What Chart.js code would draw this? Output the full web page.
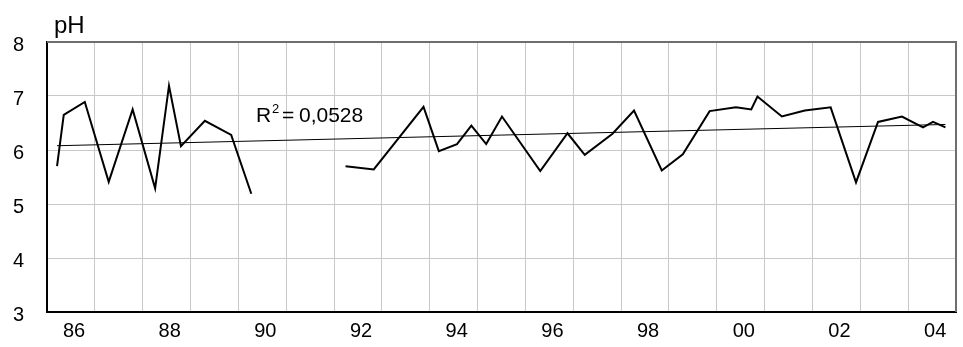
<!DOCTYPE html>
<html>
<head>
<meta charset="utf-8">
<script src="https://cdn.jsdelivr.net/npm/chart.js@4"></script>
<style>
  html, body { margin: 0; padding: 0; background: #fff; }
  #wrap { width: 963px; height: 347px; position: relative; }
</style>
</head>
<body>
<div id="wrap"><canvas id="phChart"></canvas></div>
<script>
// sample dates (decimal years) and measured pH, null = no data (gap in the line)
const sampleYears = [
    1986.21, 1986.35, 1986.79, 1987.29, 1987.79, 1988.26, 1988.55, 1988.80, 1989.30, 1989.85, 1990.27,
    1991.20,
    1992.24, 1992.83, 1993.87, 1994.19, 1994.57, 1994.87, 1995.18, 1995.51, 1996.31, 1996.88,
    1997.24, 1997.82, 1998.27, 1998.85, 1999.29, 1999.85, 2000.40, 2000.72, 2000.85, 2001.36,
    2001.84, 2002.38, 2002.91, 2003.37, 2003.87, 2004.31, 2004.52, 2004.78
];
const phValues = [
    5.70, 6.65, 6.89, 5.41, 6.75, 5.29, 7.19, 6.07, 6.54, 6.28, 5.19,
    null,
    5.70, 5.64, 6.80, 5.98, 6.11, 6.45, 6.11, 6.62, 5.61, 6.31,
    5.91, 6.30, 6.73, 5.62, 5.92, 6.72, 6.79, 6.75, 6.99, 6.62,
    6.73, 6.79, 5.40, 6.52, 6.62, 6.42, 6.52, 6.42
];
const yearTicks = [1986, 1988, 1990, 1992, 1994, 1996, 1998, 2000, 2002, 2004];
const yTicks = [3, 4, 5, 6, 7, 8];
const r2Text = '0,0528';
const yTitle = 'pH';

const FONT = "'Liberation Sans', Arial, sans-serif";

// points for the line
const phPoints = sampleYears.map((yr, i) => ({ x: yr, y: phValues[i] }));

// linear trend (least squares on the measured points)
const valid = phPoints.filter(p => p.y !== null);
const n = valid.length;
const mx = valid.reduce((s, p) => s + p.x, 0) / n;
const my = valid.reduce((s, p) => s + p.y, 0) / n;
let sxy = 0, sxx = 0;
valid.forEach(p => { sxy += (p.x - mx) * (p.y - my); sxx += (p.x - mx) * (p.x - mx); });
const slope = sxy / sxx;
const icpt = my - slope * mx;
const x0 = valid[0].x, x1 = valid[n - 1].x;
const trendPoints = [{ x: x0, y: icpt + slope * x0 }, { x: x1, y: icpt + slope * x1 }];

// gray frame on top/right + the texts
const extrasPlugin = {
    id: 'extras',
    afterDraw(chart) {
        const ctx = chart.ctx;
        const a = chart.chartArea;
        ctx.save();
        ctx.strokeStyle = '#6e6e6e';
        ctx.lineWidth = 2;
        ctx.beginPath();
        ctx.moveTo(a.left, a.top);
        ctx.lineTo(a.right, a.top);
        ctx.lineTo(a.right, a.bottom);
        ctx.stroke();

        ctx.fillStyle = '#000';
        ctx.textBaseline = 'alphabetic';
        ctx.textAlign = 'left';
        ctx.font = '24px ' + FONT;
        ctx.fillText(yTitle, 54, 33);

        // R² label
        ctx.font = '21px ' + FONT;
        ctx.fillText('R', 256, 122);
        ctx.font = '13px ' + FONT;
        ctx.fillText('2', 272, 113);
        ctx.font = '21px ' + FONT;
        ctx.fillText('=', 282, 122);
        ctx.fillText(r2Text, 299, 122);
        ctx.restore();
    }
};

new Chart(document.getElementById('phChart'), {
    type: 'line',
    data: {
        datasets: [
            {
                data: phPoints,
                borderColor: '#000',
                borderWidth: 2,
                pointRadius: 0,
                tension: 0,
                spanGaps: false
            },
            {
                data: trendPoints,
                borderColor: '#000',
                borderWidth: 1,
                pointRadius: 0,
                tension: 0
            }
        ]
    },
    options: {
        responsive: true,
        maintainAspectRatio: false,
        animation: false,
        layout: { padding: { top: 42, right: 3, left: 0, bottom: 0 } },
        plugins: {
            legend: { display: false },
            tooltip: { enabled: false }
        },
        scales: {
            x: {
                type: 'linear',
                min: 1986,
                max: 2005,
                afterFit(scale) { scale.height = 34; },
                afterBuildTicks(scale) {
                    const t = [];
                    for (let v = 1986; v <= 2005; v++) t.push({ value: v });
                    scale.ticks = t;
                },
                grid: { color: '#c8c8c8', lineWidth: 1, drawTicks: false },
                border: { color: '#000', width: 2 },
                ticks: {
                    autoSkip: false,
                    maxRotation: 0,
                    padding: 7,
                    labelOffset: 27,
                    color: '#000',
                    font: { family: FONT, size: 20 },
                    callback: v => yearTicks.includes(v) ? String(v).slice(2) : ''
                }
            },
            y: {
                min: 3,
                max: 8,
                afterFit(scale) { scale.width = 47; },
                afterBuildTicks(scale) {
                    scale.ticks = yTicks.map(v => ({ value: v }));
                },
                grid: { color: '#c8c8c8', lineWidth: 1, drawTicks: false },
                border: { color: '#000', width: 2 },
                ticks: {
                    padding: 23,
                    labelOffset: 3,
                    color: '#000',
                    font: { family: FONT, size: 20 }
                }
            }
        }
    },
    plugins: [extrasPlugin]
});
</script>
</body>
</html>
